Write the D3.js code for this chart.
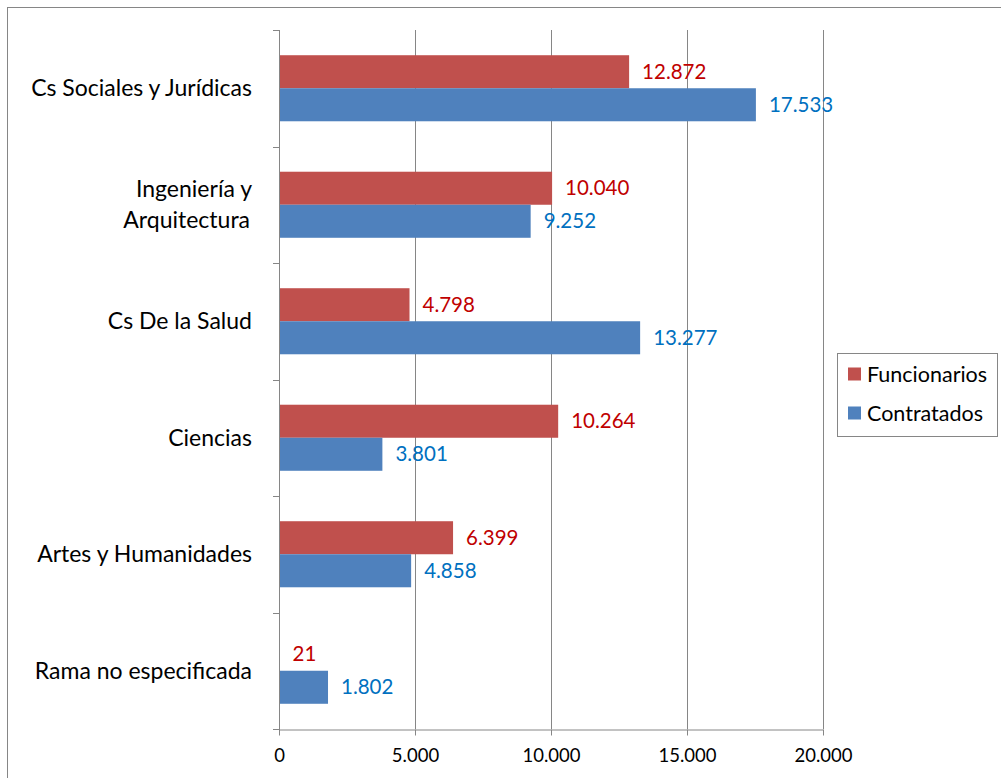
<!DOCTYPE html>
<html><head><meta charset="utf-8">
<script src="https://cdn.jsdelivr.net/npm/d3@7"></script>
<style>body{margin:0;background:#fff}svg{display:block}text{font-family:Lato,"Open Sans",sans-serif}</style>
</head><body>
<svg id="c" width="1001" height="778"></svg>
<script>
const categories = ["Cs Sociales y Jurídicas", "Ingeniería y\nArquitectura", "Cs De la Salud", "Ciencias", "Artes y Humanidades", "Rama no especificada"];
const funcionarios = [12872, 10040, 4798, 10264, 6399, 21];
const contratados = [17533, 9252, 13277, 3801, 4858, 1802];
const seriesNames = ["Funcionarios", "Contratados"];
const xTicks = [0, 5000, 10000, 15000, 20000];

(function () {
const colors = ["#C0504D", "#4F81BD"];
const labelColors = ["#C00000", "#0070C0"];
const fmt = v => d3.format(",")(v).replace(/,/g, ".");

const svg = d3.select("#c");
svg.append("rect").attr("x", 7.5).attr("y", 7.5).attr("width", 1100).attr("height", 900)
  .attr("fill", "#fff").attr("stroke", "#868686");

const pL = 279, pR = 823, pT = 30, pB = 729;
const x = d3.scaleLinear().domain([0, 20000]).range([pL, pR]);
const y = d3.scaleBand().domain(categories).range([pT, pB]).paddingInner(0.433).paddingOuter(0.2165);
const sub = d3.scaleBand().domain(seriesNames).range([0, y.bandwidth()]);

// gridlines
svg.append("g").selectAll("line").data(xTicks.slice(1)).join("line")
  .attr("x1", d => Math.round(x(d)) + 0.5).attr("x2", d => Math.round(x(d)) + 0.5)
  .attr("y1", pT).attr("y2", pB).attr("stroke", "#868686").attr("stroke-width", 1);

// bars
const data = [];
categories.forEach((c, i) => {
  data.push({c, s: seriesNames[0], v: funcionarios[i], k: 0});
  data.push({c, s: seriesNames[1], v: contratados[i], k: 1});
});
svg.append("g").selectAll("rect").data(data).join("rect")
  .attr("x", x(0)).attr("y", d => y(d.c) + sub(d.s))
  .attr("width", d => x(d.v) - x(0)).attr("height", sub.bandwidth())
  .attr("fill", d => colors[d.k]);

svg.append("g").selectAll("text").data(data).join("text")
  .attr("x", d => x(d.v) + 13).attr("y", d => y(d.c) + sub(d.s) + sub.bandwidth() / 2)
  .attr("dy", "0.35em").attr("font-size", 20.5).attr("fill", d => labelColors[d.k])
  .text(d => fmt(d.v));

// x axis
const xAxis = svg.append("g").attr("transform", `translate(0,${pB + 0.5})`)
  .call(d3.axisBottom(x).tickValues(xTicks).tickFormat(fmt).tickSize(6).tickSizeOuter(0));
xAxis.select(".domain").attr("stroke", "#868686");
xAxis.selectAll(".tick line").attr("stroke", "#868686");
xAxis.selectAll(".tick text").attr("font-size", 18.5).attr("fill", "#000").attr("dy", "1.25em")
  .style("font-family", "Lato,'Open Sans',sans-serif");

// y axis (category boundaries)
const bounds = d3.range(categories.length + 1).map(i => pT + i * (pB - pT) / categories.length);
svg.append("line").attr("x1", pL + 0.5).attr("x2", pL + 0.5).attr("y1", pT).attr("y2", pB + 6)
  .attr("stroke", "#868686");
svg.append("g").selectAll("line").data(bounds).join("line")
  .attr("x1", pL - 6).attr("x2", pL).attr("y1", d => Math.round(d) + 0.5).attr("y2", d => Math.round(d) + 0.5)
  .attr("stroke", "#868686");

// category labels
const cl = svg.append("g").selectAll("text").data(categories).join("text")
  .attr("text-anchor", "end").attr("font-size", 23).attr("fill", "#000")
  .attr("x", 254).attr("y", d => y(d) + y.bandwidth() / 2);
cl.each(function(d) {
  const lines = d.split("\n");
  const t = d3.select(this);
  lines.forEach((l, j) => {
    t.append("tspan").attr("x", j === 0 ? 252 : 250)
      .attr("dy", j === 0 ? `${0.35 - (lines.length - 1) * 0.67}em` : "1.34em").text(l);
  });
});

// legend
const lg = svg.append("g");
lg.append("rect").attr("x", 837.5).attr("y", 353.5).attr("width", 160).attr("height", 83)
  .attr("fill", "#fff").attr("stroke", "#868686");
seriesNames.forEach((s, i) => {
  const cy = 374 + i * 39;
  lg.append("rect").attr("x", 848).attr("y", cy - 6.5).attr("width", 13).attr("height", 13).attr("fill", colors[i]);
  lg.append("text").attr("x", 867).attr("y", cy).attr("dy", "0.35em").attr("font-size", 21.5).attr("fill", "#000").text(s);
});
})();
</script>
</body></html>
